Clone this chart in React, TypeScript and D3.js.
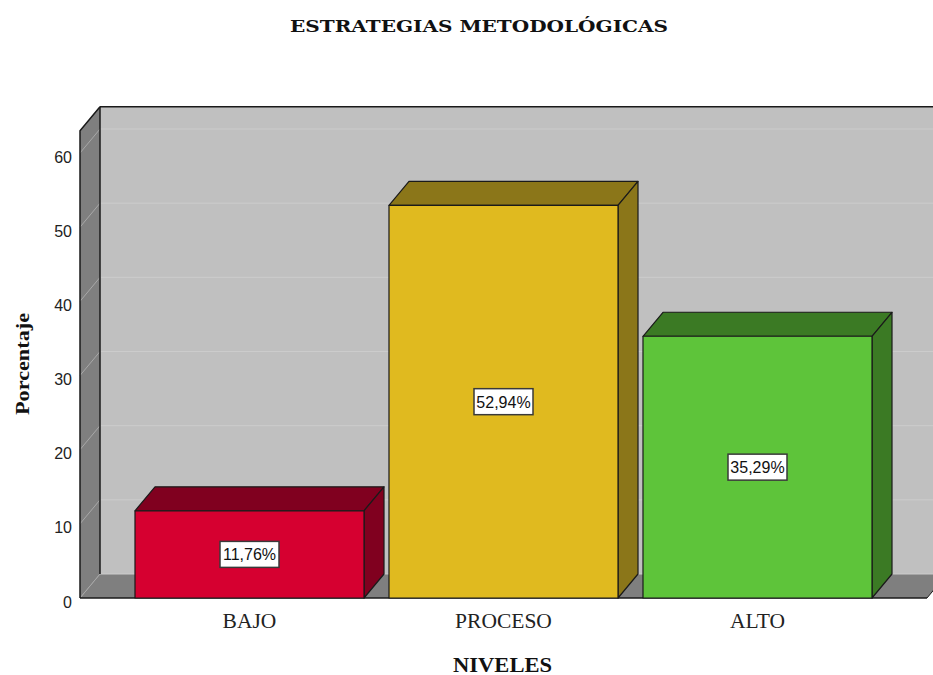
import React from "react";
import * as d3 from "d3";

const categories = ["BAJO", "PROCESO", "ALTO"];
const values = [11.76, 52.94, 35.29];
const valueLabels = ["11,76%", "52,94%", "35,29%"];
const yTicks = [0, 10, 20, 30, 40, 50, 60];
const frontColors = ["#d60030", "#e0ba1f", "#5ec43a"];
const darkColors = ["#80001f", "#8b7619", "#3b7a24"];

const W = 933;
const H = 675;
const DX = 20;
const DY = -24;

export default function App() {
  const y = d3.scaleLinear().domain([0, 60]).range([598, 153]);
  const x = d3
    .scaleBand<string>()
    .domain(categories)
    .range([122.5, 884.5])
    .paddingInner(0.0984)
    .paddingOuter(0.0492);

  const frontLeft = 80;
  const frontRight = 927;
  const topVal = 63;
  const y0 = y(0);
  const yTop = y(topVal);
  const stroke = "#1a1a1a";

  const pts = (arr: [number, number][]) => arr.map((p) => p.join(",")).join(" ");

  return (
    <svg
      width={W}
      height={H}
      style={{ position: "absolute", left: 0, top: 0, background: "#fff" }}
    >
      <text
        x={479}
        y={32}
        textAnchor="middle"
        fontFamily="DejaVu Serif"
        fontWeight="bold"
        fontSize={17}
        textLength={378}
        lengthAdjust="spacingAndGlyphs"
        fill="#111"
      >
        ESTRATEGIAS METODOLÓGICAS
      </text>

      {/* back wall */}
      <rect
        x={frontLeft + DX}
        y={yTop + DY}
        width={frontRight + DX - (frontLeft + DX) + 10}
        height={y0 - yTop}
        fill="#c0c0c0"
      />
      {/* left wall */}
      <polygon
        points={pts([
          [frontLeft, y0],
          [frontLeft, yTop],
          [frontLeft + DX, yTop + DY],
          [frontLeft + DX, y0 + DY],
        ])}
        fill="#7f7f7f"
      />
      {/* floor */}
      <polygon
        points={pts([
          [frontLeft, y0],
          [frontRight, y0],
          [frontRight + DX, y0 + DY],
          [frontLeft + DX, y0 + DY],
        ])}
        fill="#7f7f7f"
      />
      {/* gridlines */}
      {yTicks.map((t) => (
        <g key={t}>
          <line
            x1={frontLeft + DX}
            x2={W + 20}
            y1={y(t) + DY}
            y2={y(t) + DY}
            stroke="#cccccc"
            strokeWidth={1}
          />
          <line
            x1={frontLeft}
            x2={frontLeft + DX}
            y1={y(t)}
            y2={y(t) + DY}
            stroke="#a8a8a8"
            strokeWidth={1}
          />
        </g>
      ))}
      {/* outlines */}
      <line x1={frontLeft + DX} x2={frontLeft + DX} y1={yTop + DY} y2={y0 + DY} stroke={stroke} strokeWidth={1.5} />
      <line x1={frontLeft + DX} x2={W + 20} y1={yTop + DY} y2={yTop + DY} stroke={stroke} strokeWidth={1.5} />
      <polyline
        points={pts([
          [frontLeft, y0],
          [frontLeft, yTop],
          [frontLeft + DX, yTop + DY],
        ])}
        fill="none"
        stroke={stroke}
        strokeWidth={1.5}
      />
      <line x1={frontLeft} x2={frontRight} y1={y0} y2={y0} stroke={stroke} strokeWidth={1.5} />
      <line x1={frontRight} x2={frontRight + DX} y1={y0} y2={y0 + DY} stroke={stroke} strokeWidth={1} />

      {/* tick labels */}
      {yTicks.map((t) => (
        <text
          key={"t" + t}
          x={72}
          y={y(t) + 9.5}
          textAnchor="end"
          fontFamily="Liberation Sans, Arial"
          fontSize={16}
          fill="#222"
        >
          {t}
        </text>
      ))}

      {/* bars */}
      {categories.map((c, i) => {
        const x0 = x(c)!;
        const x1 = x0 + x.bandwidth();
        const yv = y(values[i]);
        return (
          <g key={c} stroke={stroke} strokeWidth={1.2} strokeLinejoin="round">
            <polygon
              points={pts([
                [x0, yv],
                [x0 + DX, yv + DY],
                [x1 + DX, yv + DY],
                [x1, yv],
              ])}
              fill={darkColors[i]}
            />
            <polygon
              points={pts([
                [x1, yv],
                [x1 + DX, yv + DY],
                [x1 + DX, y0 + DY],
                [x1, y0],
              ])}
              fill={darkColors[i]}
            />
            <rect x={x0} y={yv} width={x1 - x0} height={y0 - yv} fill={frontColors[i]} />
          </g>
        );
      })}

      {/* value labels */}
      {categories.map((c, i) => {
        const cx = x(c)! + x.bandwidth() / 2;
        const cy = (y(values[i]) + y0) / 2;
        return (
          <g key={"l" + c}>
            <rect
              x={cx - 29.5}
              y={cy - 13}
              width={59}
              height={26}
              fill="#ffffff"
              stroke="#3a3a3a"
              strokeWidth={1.5}
            />
            <text
              x={cx}
              y={cy + 6}
              textAnchor="middle"
              fontFamily="Liberation Sans, Arial"
              fontSize={16}
              fill="#111"
            >
              {valueLabels[i]}
            </text>
          </g>
        );
      })}

      {/* category labels */}
      {categories.map((c) => (
        <text
          key={"c" + c}
          x={x(c)! + x.bandwidth() / 2}
          y={628}
          textAnchor="middle"
          fontFamily="Liberation Serif"
          fontSize={21.5}
          fill="#222"
        >
          {c}
        </text>
      ))}

      <text
        x={502.5}
        y={672}
        textAnchor="middle"
        fontFamily="Liberation Serif"
        fontWeight="bold"
        fontSize={20}
        textLength={99}
        lengthAdjust="spacingAndGlyphs"
        fill="#111"
      >
        NIVELES
      </text>

      <text
        transform="translate(29,364) rotate(-90)"
        textAnchor="middle"
        fontFamily="Liberation Serif"
        fontWeight="bold"
        fontSize={19}
        textLength={102}
        lengthAdjust="spacingAndGlyphs"
        fill="#111"
      >
        Porcentaje
      </text>
    </svg>
  );
}
